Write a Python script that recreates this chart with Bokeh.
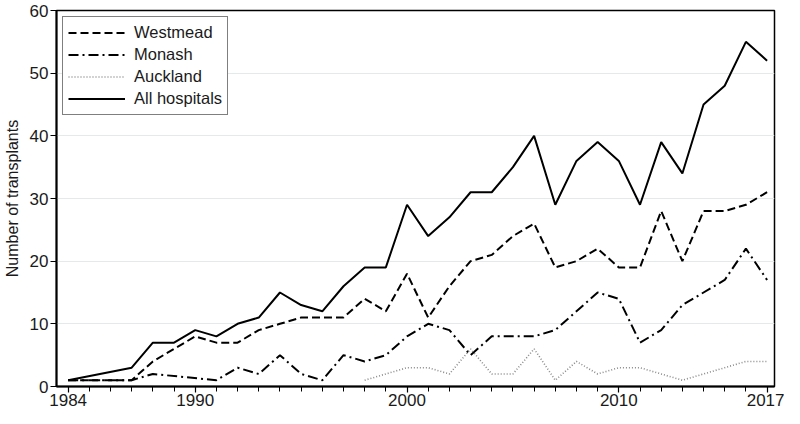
from bokeh.plotting import figure
from bokeh.models import Range1d, FixedTicker, ColumnDataSource, Legend, LegendItem
from bokeh.embed import file_html
from bokeh.resources import INLINE

# ---- data ----
westmead_years = [1984, 1987, 1988, 1989, 1990, 1991, 1992, 1993, 1994, 1995, 1996, 1997,
                  1998, 1999, 2000, 2001, 2002, 2003, 2004, 2005, 2006, 2007, 2008, 2009,
                  2010, 2011, 2012, 2013, 2014, 2015, 2016, 2017]
westmead = [1, 1, 4, 6, 8, 7, 7, 9, 10, 11, 11, 11,
            14, 12, 18, 11, 16, 20, 21, 24, 26, 19, 20, 22,
            19, 19, 28, 20, 28, 28, 29, 31]

monash_years = [1984, 1987, 1988, 1991, 1992, 1993, 1994, 1995, 1996, 1997,
                1998, 1999, 2000, 2001, 2002, 2003, 2004, 2005, 2006, 2007, 2008, 2009,
                2010, 2011, 2012, 2013, 2014, 2015, 2016, 2017]
monash = [1, 1, 2, 1, 3, 2, 5, 2, 1, 5,
          4, 5, 8, 10, 9, 5, 8, 8, 8, 9, 12, 15,
          14, 7, 9, 13, 15, 17, 22, 17]

auckland_years = [1998, 1999, 2000, 2001, 2002, 2003, 2004, 2005, 2006, 2007, 2008, 2009,
                  2010, 2011, 2012, 2013, 2014, 2015, 2016, 2017]
auckland = [1, 2, 3, 3, 2, 6, 2, 2, 6, 1, 4, 2,
            3, 3, 2, 1, 2, 3, 4, 4]

all_years = [1984, 1987, 1988, 1989, 1990, 1991, 1992, 1993, 1994, 1995, 1996, 1997,
             1998, 1999, 2000, 2001, 2002, 2003, 2004, 2005, 2006, 2007, 2008, 2009,
             2010, 2011, 2012, 2013, 2014, 2015, 2016, 2017]
all_hospitals = [1, 3, 7, 7, 9, 8, 10, 11, 15, 13, 12, 16,
                 19, 19, 29, 24, 27, 31, 31, 35, 40, 29, 36, 39,
                 36, 29, 39, 34, 45, 48, 55, 52]

x_major_ticks = [1984, 1990, 2000, 2010, 2017]
y_ticks = [0, 10, 20, 30, 40, 50, 60]

FONT = "Liberation Sans"

p = figure(width=784, height=408, output_backend="svg", toolbar_location=None,
           x_range=Range1d(1983.45, 2017.35), y_range=Range1d(0, 60),
           min_border_left=4, min_border_right=10, min_border_top=10, min_border_bottom=0)
p.background_fill_color = "white"
p.border_fill_color = "white"
p.outline_line_color = "black"
p.outline_line_width = 1.5

# grid
p.xgrid.grid_line_color = None
p.ygrid.grid_line_color = "#e3eaea"
p.ygrid.grid_line_width = 1.2

# axes
p.xaxis.ticker = FixedTicker(ticks=x_major_ticks, minor_ticks=list(range(1984, 2018)))
p.yaxis.ticker = FixedTicker(ticks=y_ticks)
for ax in (p.xaxis[0], p.yaxis[0]):
    ax.axis_line_width = 2
    ax.axis_line_color = "black"
    ax.major_tick_line_color = "black"
    ax.major_tick_line_width = 1.2
    ax.major_tick_out = 6
    ax.major_tick_in = 0
    ax.minor_tick_line_color = "black"
    ax.minor_tick_line_width = 1
    ax.minor_tick_out = 5
    ax.minor_tick_in = 0
    ax.major_label_text_font = FONT
    ax.major_label_text_font_size = "17px"
    ax.major_label_text_color = "#1a1a1a"
    ax.major_label_standoff = 2
p.xaxis.major_label_standoff = 1
p.yaxis.minor_tick_line_color = None
p.yaxis.axis_label = "Number of transplants"
p.yaxis.axis_label_text_font = FONT
p.yaxis.axis_label_text_font_size = "16px"
p.yaxis.axis_label_text_font_style = "normal"
p.yaxis.axis_label_text_color = "#1a1a1a"
p.yaxis.axis_label_standoff = 6

# series
r_w = p.line(x="x", y="y", source=ColumnDataSource(dict(x=westmead_years, y=westmead)),
             line_color="black", line_width=2, line_dash="8 4")
r_m = p.line(x="x", y="y", source=ColumnDataSource(dict(x=monash_years, y=monash)),
             line_color="black", line_width=2, line_dash="10 4 2 4")
r_a = p.line(x="x", y="y", source=ColumnDataSource(dict(x=auckland_years, y=auckland)),
             line_color="#8a8a8a", line_width=1.6, line_dash="1 2")
r_all = p.line(x="x", y="y", source=ColumnDataSource(dict(x=all_years, y=all_hospitals)),
               line_color="black", line_width=2)

legend = Legend(items=[
    LegendItem(label="Westmead", renderers=[r_w]),
    LegendItem(label="Monash", renderers=[r_m]),
    LegendItem(label="Auckland", renderers=[r_a]),
    LegendItem(label="All hospitals", renderers=[r_all]),
], location="top_left")
legend.label_text_font = FONT
legend.label_text_font_size = "16.5px"
legend.label_text_color = "#1a1a1a"
legend.glyph_width = 57
legend.glyph_height = 21
legend.label_height = 21
legend.label_standoff = 9
legend.spacing = 1
legend.padding = 5
legend.margin = 6
legend.border_line_color = "black"
legend.border_line_width = 1.2
legend.background_fill_alpha = 1
p.add_layout(legend)

open("out.html", "w").write(file_html(p, INLINE))
